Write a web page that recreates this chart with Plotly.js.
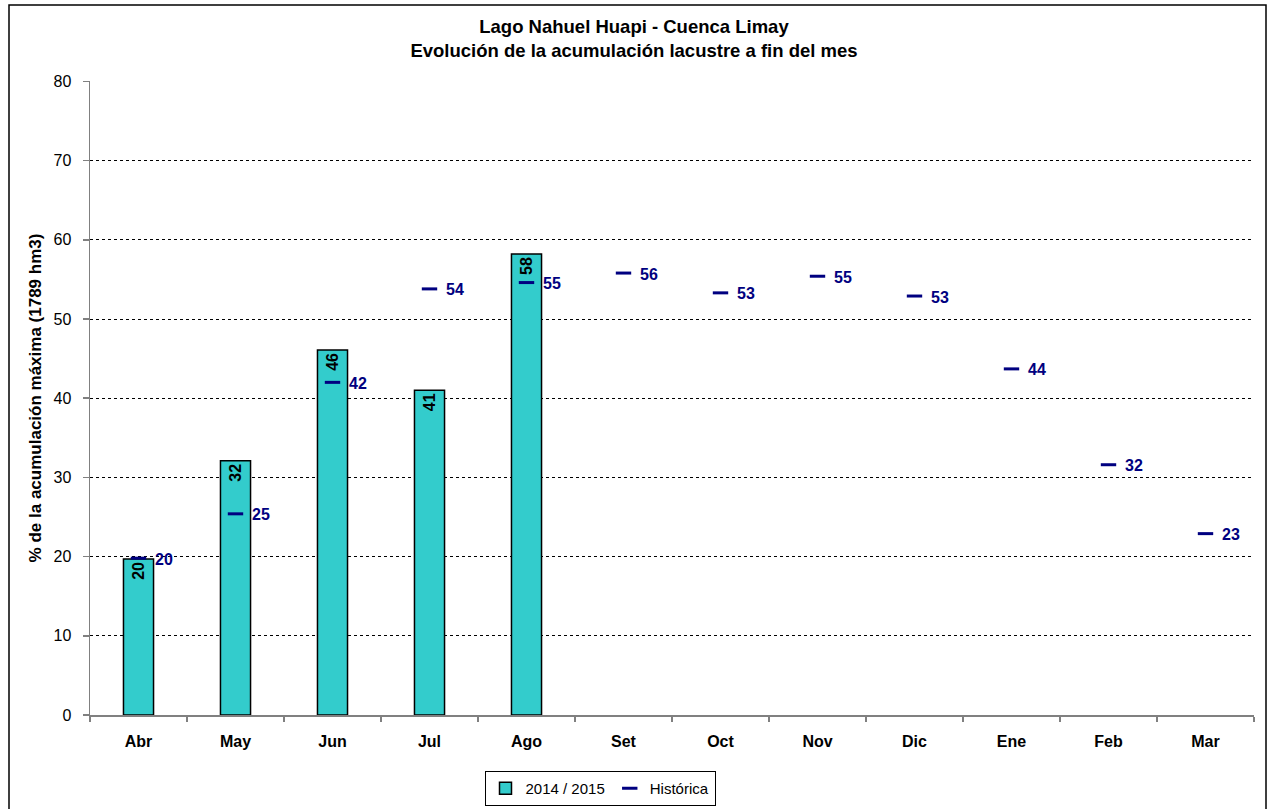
<!DOCTYPE html>
<html>
<head>
<meta charset="utf-8">
<script src="https://cdn.plot.ly/plotly-3.0.1.min.js"></script>
<style>
  html, body { margin: 0; padding: 0; background: #fff; }
  #chart { width: 1268px; height: 809px; }
</style>
</head>
<body>
<div id="chart"></div>
<script>
const months = ['Abr', 'May', 'Jun', 'Jul', 'Ago', 'Set', 'Oct', 'Nov', 'Dic', 'Ene', 'Feb', 'Mar'];
const season = [19.7, 32.1, 46.1, 41.0, 58.2, null, null, null, null, null, null, null];
const historica = [19.8, 25.4, 42.0, 53.8, 54.6, 55.8, 53.3, 55.4, 52.9, 43.7, 31.6, 22.9];
const seasonName = '2014 / 2015';
const histName = 'Histórica';

const FONT = 'Arial, "Liberation Sans", sans-serif';

const traces = [
  {
    type: 'bar',
    name: seasonName,
    x: months,
    y: season,
    width: 0.31,
    marker: { color: '#33CCCC', line: { color: '#000000', width: 1.5 } },
    text: season.map(v => v == null ? '' : String(Math.round(v))),
    textposition: 'inside',
    insidetextanchor: 'end',
    textangle: -90,
    textfont: { family: FONT, size: 16, color: '#000000', weight: 'bold' },
    constraintext: 'none',
    hoverinfo: 'x+y'
  },
  {
    type: 'scatter',
    mode: 'markers',
    name: histName,
    x: months,
    y: historica,
    marker: { symbol: 'line-ew', size: 11, color: '#000080', line: { color: '#000080', width: 3 } },
    hoverinfo: 'x+y'
  }
];

const annotations = months.map((m, i) => ({
  x: m, y: historica[i], xref: 'x', yref: 'y',
  text: '<b>' + Math.round(historica[i]) + '</b>',
  showarrow: false, xanchor: 'left', yanchor: 'middle',
  xshift: 14, yshift: -1,
  font: { family: FONT, size: 16, color: '#000080' }
}));

const x0 = 90, x1 = 1254, yTop = 81, yBot = 715;
const pw = x1 - x0, ph = yBot - yTop;

const layout = {
  width: 1268, height: 809,
  margin: { l: x0, r: 1268 - x1, t: yTop, b: 809 - yBot, pad: 0, autoexpand: false },
  paper_bgcolor: '#ffffff',
  plot_bgcolor: '#ffffff',
  font: { family: FONT, size: 15, color: '#000000' },
  title: {
    text: '<b>Lago Nahuel Huapi - Cuenca Limay</b><br><b>Evolución de la acumulación lacustre a fin del mes</b>',
    x: 0.5, xref: 'container', xanchor: 'center',
    y: 1 - 33 / 809, yref: 'container', yanchor: 'top',
    font: { family: FONT, size: 18.5, color: '#000000' }
  },
  showlegend: true,
  legend: {
    orientation: 'h',
    x: (600 - x0) / pw, xanchor: 'center',
    yref: 'container',
    y: (809 - 771) / 809, yanchor: 'top',
    bordercolor: '#000000', borderwidth: 1,
    bgcolor: '#ffffff',
    font: { family: FONT, size: 15, color: '#000000' },
    itemwidth: 30,
    tracegroupgap: 0
  },
  xaxis: {
    type: 'category',
    range: [-0.5, 11.5],
    automargin: false,
    showline: true, linecolor: '#808080', linewidth: 1.5,
    ticks: 'outside', tickson: 'boundaries', ticklen: 5, tickcolor: '#808080', tickwidth: 1.5,
    ticklabelstandoff: 11,
    tickfont: { family: FONT, size: 16, color: '#000000', weight: 'bold' },
    showgrid: false, zeroline: false,
    fixedrange: true
  },
  yaxis: {
    range: [0, 80.05], dtick: 10, tick0: 0,
    automargin: false,
    showline: true, linecolor: '#808080', linewidth: 1.5,
    ticks: 'outside', ticklen: 6, tickcolor: '#808080', tickwidth: 1.5,
    ticklabelstandoff: 8,
    tickfont: { family: FONT, size: 16, color: '#000000' },
    showgrid: true, gridcolor: '#000000', gridwidth: 1, griddash: '3px,3px',
    zeroline: false,
    title: {
      text: '<b>% de la acumulación máxima (1789 hm3)</b>',
      font: { family: FONT, size: 17, color: '#000000' },
      standoff: 7
    },
    fixedrange: true
  },
  annotations: annotations,
  shapes: [
    {
      type: 'rect', xref: 'paper', yref: 'paper',
      x0: (9 - x0) / pw, x1: (1266 - x0) / pw,
      y0: (yBot - 810) / ph, y1: (yBot - 5) / ph,
      line: { color: '#000000', width: 1.5 }, fillcolor: 'rgba(0,0,0,0)',
      layer: 'below'
    }
  ]
};

Plotly.newPlot('chart', traces, layout, { displayModeBar: false, staticPlot: true });
</script>
</body>
</html>
